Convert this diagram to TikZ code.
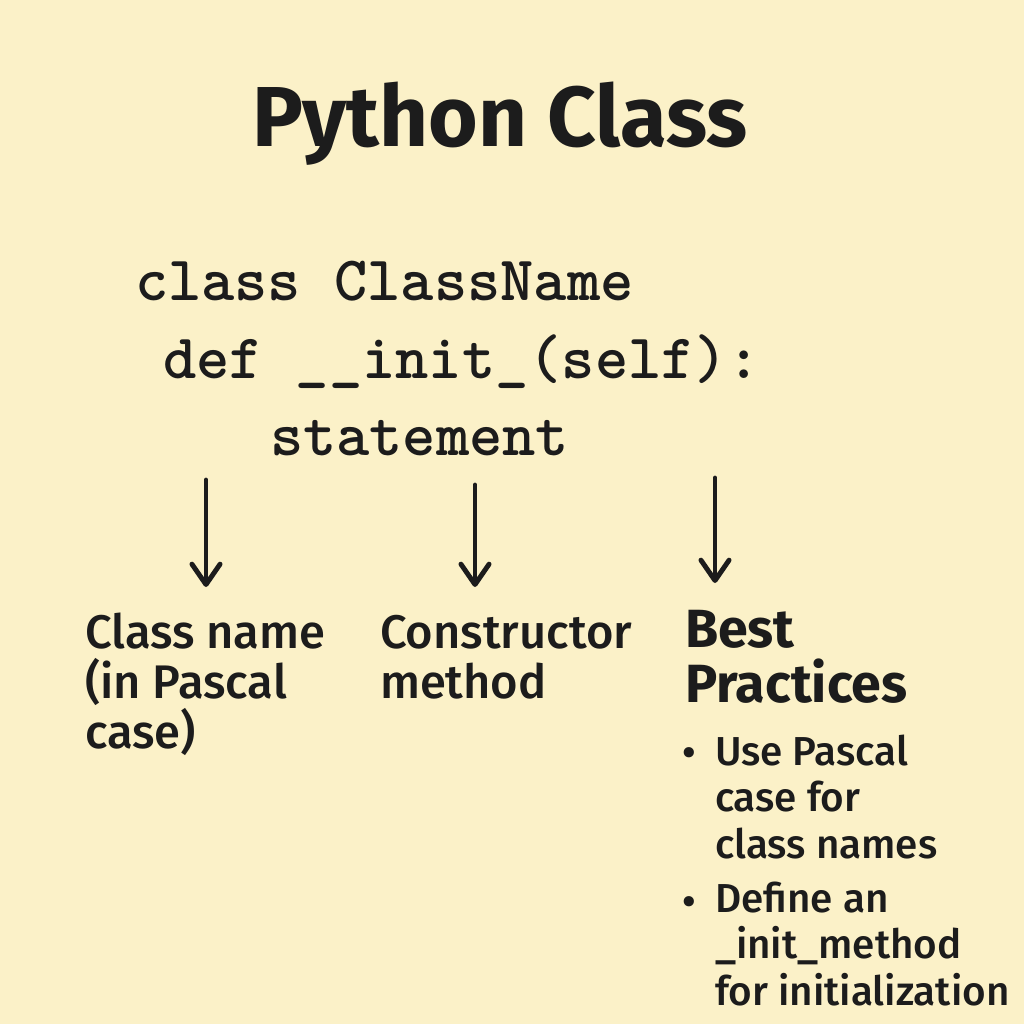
\documentclass[tikz,border=0pt]{standalone}
\usepackage{fontspec}
\setmainfont{Fira Sans}
\newfontfamily\fmed{Fira Sans Medium}
\usetikzlibrary{arrows.meta}
\definecolor{bg}{HTML}{FBF1C8}
\definecolor{ink}{HTML}{1C1C1C}
\begin{document}
\begin{tikzpicture}[x=0.01cm,y=-0.01cm,
  txt/.style={inner sep=0pt,outer sep=0pt,text=ink,anchor=base west},
  titlefont/.style={font=\fontsize{24.2}{28}\selectfont\bfseries},
  codefont/.style={font=\fontsize{18}{22}\selectfont\ttfamily\bfseries},
  labelfont/.style={font=\fmed\fontsize{13.4}{14.2}\selectfont},
  headfont/.style={font=\fontsize{15.3}{15.6}\selectfont\bfseries},
  itemfont/.style={font=\fmed\fontsize{11.5}{13.1}\selectfont},
  arr/.style={draw=ink,line width=1.4pt,line cap=round,-{Straight Barb[length=5.8pt,width=8pt,line cap=round,line join=round]}}]
\fill[bg] (0,0) rectangle (1024,1024);
\useasboundingbox (0,0) rectangle (1024,1024);
% title
\node[txt,titlefont,anchor=base] (title) at (500,146) {Python Class};
% code
\node[txt,codefont] (code1) at (135,300) {class ClassName};
\node[txt,codefont] (code2) at (163,378) {def \_\_init\_(self):};
\node[txt,codefont] (code3) at (270,455) {statement};
% arrows
\coordinate (a1s) at (206,480); \coordinate (a1e) at (206,587);
\coordinate (a2s) at (475,485); \coordinate (a2e) at (475,587);
\coordinate (a3s) at (715,478); \coordinate (a3e) at (715,583);
\draw[arr] (a1s) -- (a1e);
\draw[arr] (a2s) -- (a2e);
\draw[arr] (a3s) -- (a3e);
% labels (base anchor = baseline of last line)
\node[txt,labelfont,align=left] (lab1) at (85,748) {Class name\\(in Pascal\\case)};
\node[txt,labelfont,align=left] (lab2) at (380,698) {Constructor\\method};
\node[txt,headfont,align=left] (lab3) at (685,702) {Best\\Practices};
\node[txt,itemfont] (b1) at (682,766) {•};
\node[txt,itemfont,align=left] (i1) at (715,858) {Use Pascal\\case for\\class names};
\node[txt,itemfont] (b2) at (682,915) {•};
\node[txt,itemfont,align=left] (i2) at (715,1005) {Define an\\\_init\_method\\for initialization};
\end{tikzpicture}
\end{document}
